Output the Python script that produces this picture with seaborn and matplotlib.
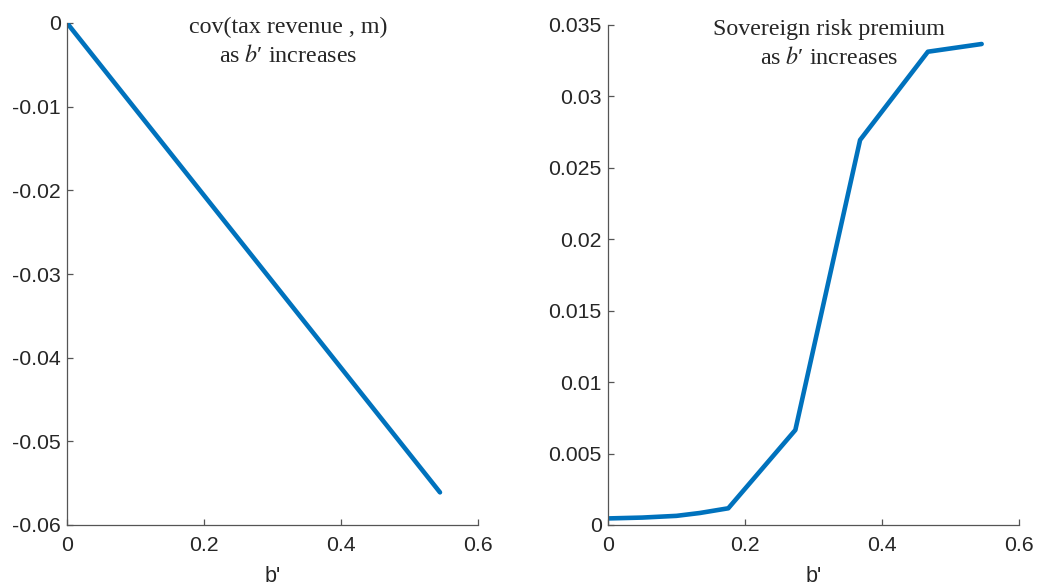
import matplotlib
matplotlib.use("Agg")
import matplotlib.pyplot as plt
import seaborn as sns

# Left panel: covariance of tax revenue with m over the debt grid
cov_b = [0.0, 0.5445]
cov_val = [0.0, -0.0561]

# Right panel: sovereign risk premium over the debt grid
prem_b = [0.0, 0.05, 0.10, 0.134, 0.1756, 0.2735, 0.368, 0.467, 0.5455]
prem_val = [0.00046, 0.00052, 0.00064, 0.00084, 0.00117, 0.00665, 0.02695, 0.03313, 0.03367]

x_ticks = [0, 0.2, 0.4, 0.6]
x_labels = ["0", "0.2", "0.4", "0.6"]
left_ticks = [0, -0.01, -0.02, -0.03, -0.04, -0.05, -0.06]
left_labels = ["0", "-0.01", "-0.02", "-0.03", "-0.04", "-0.05", "-0.06"]
right_ticks = [0, 0.005, 0.01, 0.015, 0.02, 0.025, 0.03, 0.035]
right_labels = ["0", "0.005", "0.01", "0.015", "0.02", "0.025", "0.03", "0.035"]

left_title = ["cov(tax revenue , m)", "as $b$\u2032 increases"]
right_title = ["Sovereign risk premium", "as $b$\u2032 increases"]
x_name = "b'"

sns.set_style("white")
plt.rcParams["font.family"] = ["Liberation Sans", "DejaVu Sans"]
plt.rcParams["mathtext.fontset"] = "stix"

line_color = "#0072BD"
axis_color = "#555555"

fig = plt.figure(figsize=(10.38, 5.86), dpi=100)
ax_l = fig.add_axes([67 / 1038, 61 / 586, 411 / 1038, 502 / 586])
ax_r = fig.add_axes([608 / 1038, 61 / 586, 411 / 1038, 500 / 586])


def style(ax, yticks, ylabels, ylim, title):
    ax.set_xlim(0, 0.6)
    ax.set_ylim(*ylim)
    ax.set_xticks(x_ticks)
    ax.set_xticklabels(x_labels)
    ax.set_yticks(yticks)
    ax.set_yticklabels(ylabels)
    for side in ("top", "right"):
        ax.spines[side].set_visible(False)
    for side in ("left", "bottom"):
        ax.spines[side].set_color(axis_color)
        ax.spines[side].set_linewidth(0.9)
    ax.tick_params(direction="in", length=4, width=0.9, color=axis_color,
                   labelsize=15.3, labelcolor="#262626",
                   left=True, bottom=True)
    ax.tick_params(axis="x", pad=8)
    ax.tick_params(axis="y", pad=4.5)
    ax.set_xlabel(x_name, fontsize=15.5, color="#262626", labelpad=7.5)
    ax.set_ylabel("")
    serif = ["Liberation Serif", "DejaVu Serif"]
    ax.text(0.323, 0.980, title[0], transform=ax.get_xaxis_transform(),
            ha="center", va="baseline", family=serif, fontsize=17.3)
    ax.text(0.323, 0.923, title[1], transform=ax.get_xaxis_transform(),
            ha="center", va="baseline", family=serif, fontsize=17.3)


sns.lineplot(x=cov_b, y=cov_val, ax=ax_l, color=line_color, linewidth=3.3)
sns.lineplot(x=prem_b, y=prem_val, ax=ax_r, color=line_color, linewidth=3.3)

style(ax_l, left_ticks, left_labels, (-0.06, 0), left_title)
style(ax_r, right_ticks, right_labels, (0, 0.035), right_title)

fig.savefig("out.png", dpi=100, facecolor="white")
